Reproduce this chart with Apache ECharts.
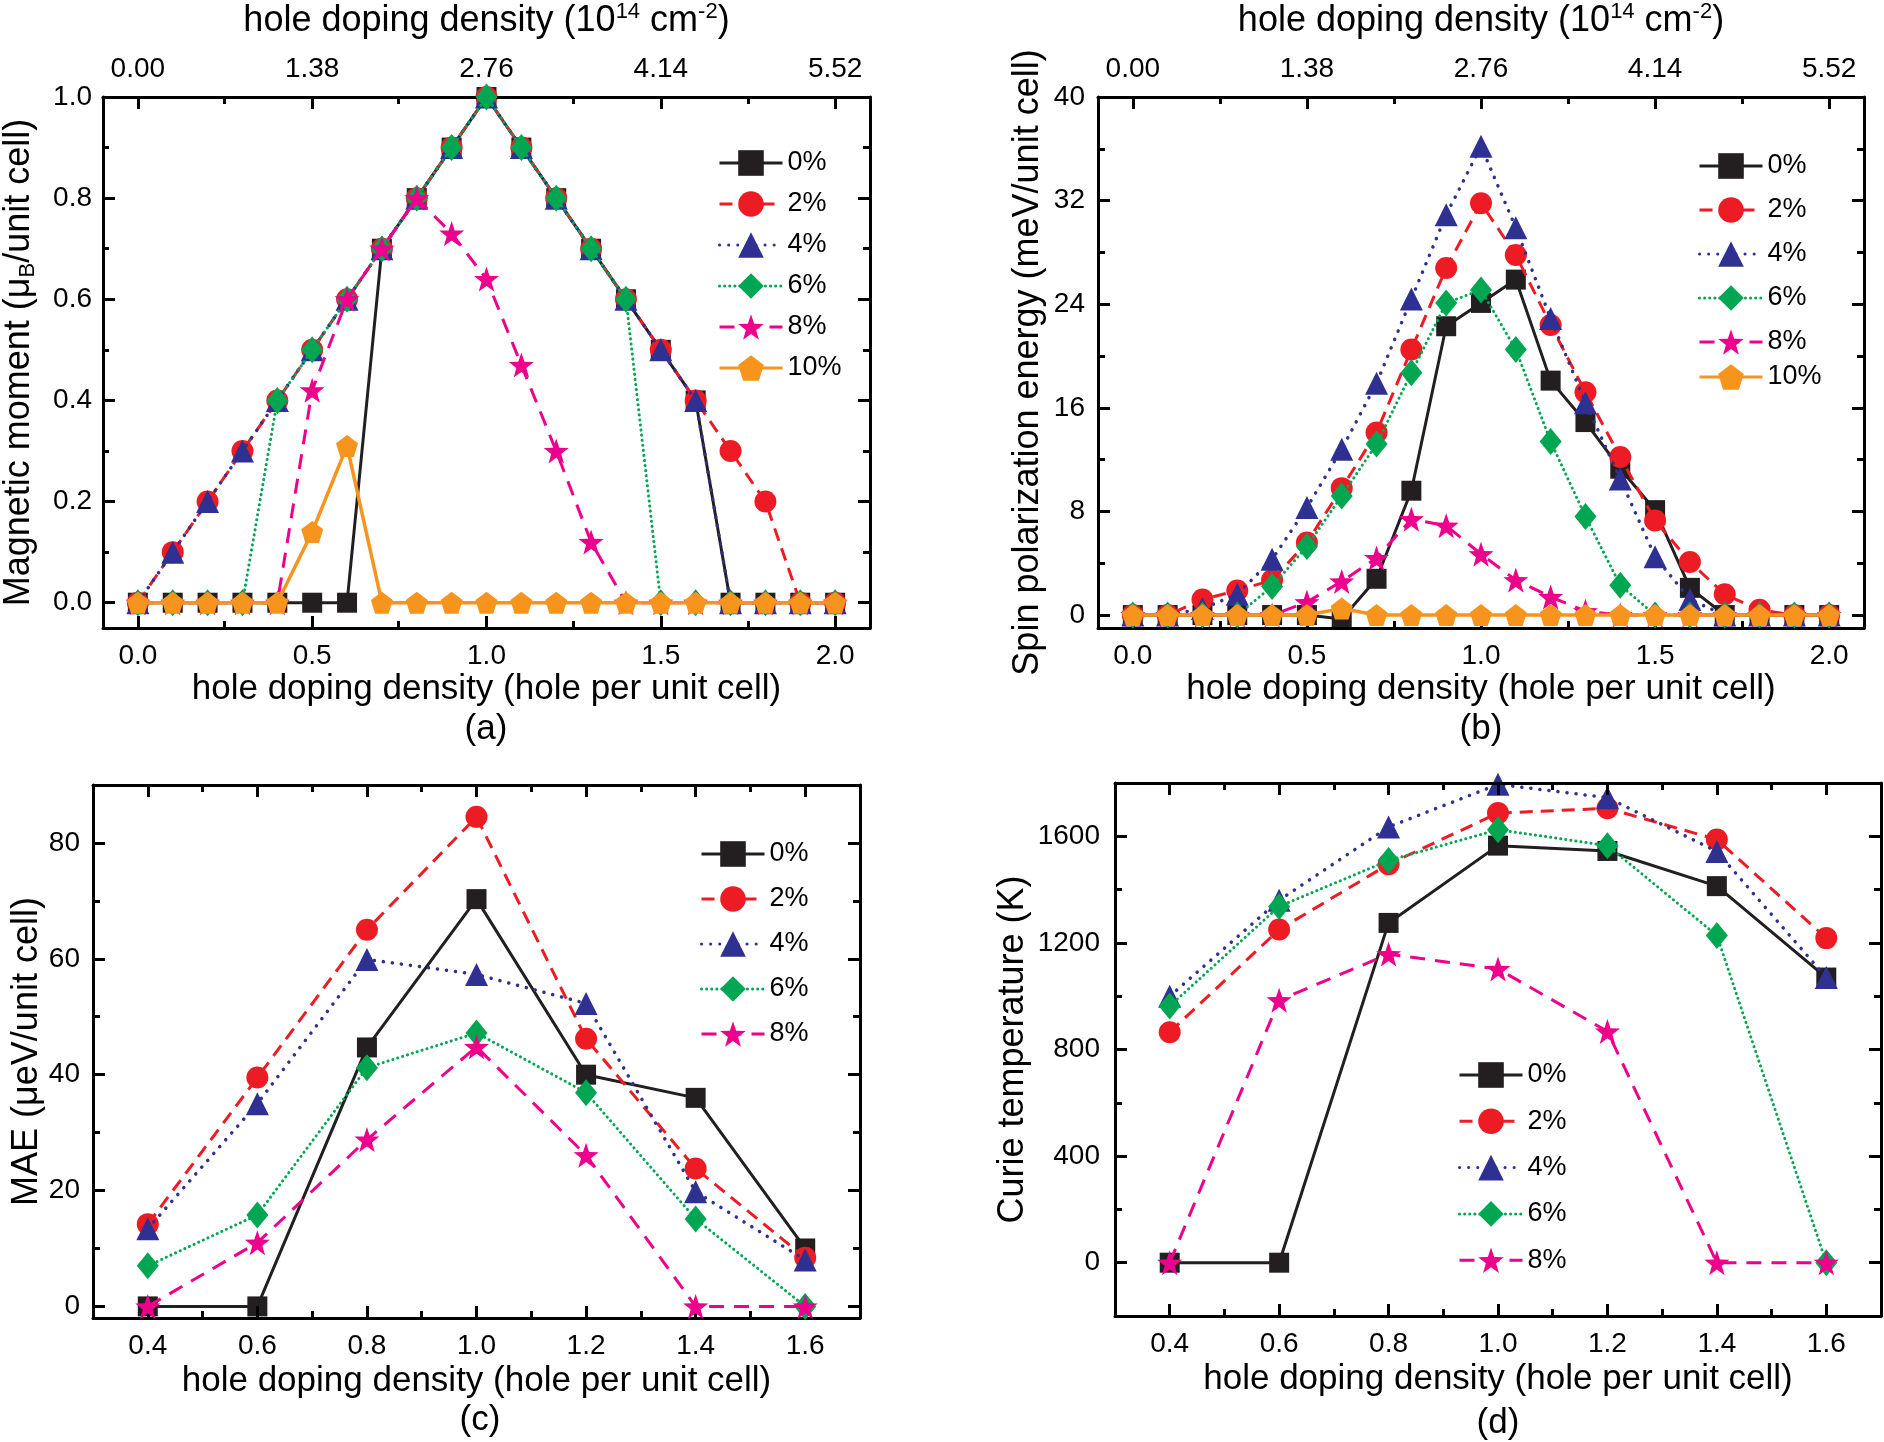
<!DOCTYPE html>
<html lang="en">
<head>
<meta charset="UTF-8">
<title>hole doping</title>
<script src="https://cdn.jsdelivr.net/npm/echarts@6/dist/echarts.min.js"></script>
<style>html,body{margin:0;padding:0;background:#fff}</style>
</head>
<body>
<div id="main" style="width:1884px;height:1442px"></div>
<script>
// ---- data ----
var strainNames = ['0%', '2%', '4%', '6%', '8%', '10%'];

// panels (a) and (b): hole per unit cell
var holeFull = [0, 0.1, 0.2, 0.3, 0.4, 0.5, 0.6, 0.7, 0.8, 0.9, 1.0, 1.1, 1.2, 1.3, 1.4, 1.5, 1.6, 1.7, 1.8, 1.9, 2.0];

var moment0  = [0, 0, 0, 0, 0, 0, 0, 0.7, 0.8, 0.9, 1.0, 0.9, 0.8, 0.7, 0.6, 0.5, 0.4, 0, 0, 0, 0];
var moment2  = [0, 0.1, 0.2, 0.3, 0.4, 0.5, 0.6, 0.7, 0.8, 0.9, 1.0, 0.9, 0.8, 0.7, 0.6, 0.5, 0.4, 0.3, 0.2, 0, 0];
var moment4  = [0, 0.1, 0.2, 0.3, 0.4, 0.5, 0.6, 0.7, 0.8, 0.9, 1.0, 0.9, 0.8, 0.7, 0.6, 0.5, 0.4, 0, 0, 0, 0];
var moment6  = [0, 0, 0, 0, 0.4, 0.5, 0.6, 0.7, 0.8, 0.9, 1.0, 0.9, 0.8, 0.7, 0.6, 0, 0, 0, 0, 0, 0];
var moment8  = [0, 0, 0, 0, 0, 0.42, 0.6, 0.7, 0.8, 0.73, 0.64, 0.47, 0.3, 0.12, 0, 0, 0, 0, 0, 0, 0];
var moment10 = [0, 0, 0, 0, 0, 0.14, 0.31, 0, 0, 0, 0, 0, 0, 0, 0, 0, 0, 0, 0, 0, 0];

var spin0  = [0, 0, 0, 0, 0, 0, -0.3, 2.8, 9.6, 22.3, 24.1, 25.9, 18.1, 14.9, 11.3, 8.1, 2.1, 0, 0, 0, 0];
var spin2  = [0, 0, 1.2, 1.9, 2.7, 5.6, 9.8, 14.1, 20.5, 26.8, 31.8, 27.8, 22.4, 17.2, 12.2, 7.3, 4.1, 1.6, 0.4, 0, 0];
var spin4  = [0, 0, 0.5, 1.6, 4.3, 8.3, 12.8, 17.9, 24.4, 30.9, 36.2, 29.9, 22.9, 16.4, 10.5, 4.5, 1.2, 0, 0, 0, 0];
var spin6  = [0, 0, 0, 0, 2.2, 5.3, 9.2, 13.2, 18.7, 24.1, 25.1, 20.5, 13.4, 7.6, 2.3, 0, 0, 0, 0, 0, 0];
var spin8  = [0, 0, 0, 0, 0, 1.0, 2.6, 4.4, 7.4, 6.9, 4.7, 2.7, 1.4, 0.3, 0, 0, 0, 0, 0, 0, 0];
var spin10 = [0, 0, 0, 0, 0, 0, 0.5, 0, 0, 0, 0, 0, 0, 0, 0, 0, 0, 0, 0, 0, 0];

// panels (c) and (d)
var holeSub = [0.4, 0.6, 0.8, 1.0, 1.2, 1.4, 1.6];

var mae0 = [0, 0, 44.7, 70.3, 40, 36, 10];
var mae2 = [14.2, 39.5, 65, 84.5, 46.2, 23.8, 8.4];
var mae4 = [13.4, 35, 59.9, 57.3, 52.3, 19.8, 8];
var mae6 = [7, 15.8, 41.2, 47.2, 36.9, 15.1, 0];
var mae8 = [0, 11, 28.8, 44.8, 26.1, 0, 0];

var curie0 = [0, 0, 1275, 1565, 1545, 1413, 1070];
var curie2 = [865, 1250, 1495, 1687, 1705, 1588, 1218];
var curie4 = [1000, 1360, 1635, 1795, 1745, 1543, 1070];
var curie6 = [963, 1337, 1509, 1625, 1565, 1228, 0];
var curie8 = [0, 985, 1158, 1102, 868, 0, 0];

// tick positions and labels (major = labelled, minor = short ticks between)
var topTickValues = [0, 0.5, 1, 1.5, 2];
var topTickLabels = ['0.00', '1.38', '2.76', '4.14', '5.52'];
var fullMajor = [0, 0.5, 1, 1.5, 2];
var fullMinor = [0.25, 0.75, 1.25, 1.75];
var subMajor = [0.4, 0.6, 0.8, 1.0, 1.2, 1.4, 1.6];
var subMinor = [0.5, 0.7, 0.9, 1.1, 1.3, 1.5];
var momentMajor = [0, 0.2, 0.4, 0.6, 0.8, 1.0];
var momentMinor = [0.1, 0.3, 0.5, 0.7, 0.9];
var spinMajor = [0, 8, 16, 24, 32, 40];
var spinMinor = [4, 12, 20, 28, 36];
var maeMajor = [0, 20, 40, 60, 80];
var maeMinor = [10, 30, 50, 70, 90];
var curieMajor = [0, 400, 800, 1200, 1600];
var curieMinor = [200, 600, 1000, 1400, 1800];

// ---- styles ----
var FONT = 'Liberation Sans, Arial, sans-serif';
var STAR = 'path://M0,-10 L2.35,-3.24 L9.51,-3.09 L3.8,1.24 L5.88,8.09 L0,4 L-5.88,8.09 L-3.8,1.24 L-9.51,-3.09 L-2.35,-3.24 Z';
var PENTA = 'path://M0,-10 L9.51,-3.09 L5.88,8.09 L-5.88,8.09 L-9.51,-3.09 Z';
var styles = [
    {color: '#231f20', type: 'solid', width: 3, cap: 'butt', symbol: 'rect', size: 20},
    {color: '#ed1c24', type: [13, 8], width: 3, cap: 'butt', symbol: 'circle', size: 22},
    {color: '#2e3192', type: [0.1, 9], width: 3.5, cap: 'round', symbol: 'triangle', size: 23},
    {color: '#00a651', type: [0.1, 5], width: 3, cap: 'round', symbol: 'diamond', size: [22, 27]},
    {color: '#ec008c', type: [15, 10], width: 3, cap: 'butt', symbol: STAR, size: 25},
    {color: '#f7941d', type: 'solid', width: 3.5, cap: 'butt', symbol: PENTA, size: 22}
];

function pairs(xs, ys) {
    var out = [];
    for (var i = 0; i < xs.length; i++) out.push([xs[i], ys[i]]);
    return out;
}

function makeSeries(k, xs, ys, panel) {
    var s = styles[k];
    return {
        name: strainNames[k],
        type: 'line',
        xAxisIndex: panel * 2,
        yAxisIndex: panel * 2,
        data: pairs(xs, ys),
        symbol: s.symbol,
        symbolSize: s.size,
        showAllSymbol: true,
        itemStyle: {color: s.color},
        lineStyle: {color: s.color, type: s.type, width: s.width, cap: s.cap},
        animation: false,
        z: 2 + k
    };
}

function axis(o) {
    return {
        type: 'value',
        gridIndex: o.grid,
        position: o.position,
        min: o.min,
        max: o.max,
        name: o.name || '',
        nameLocation: 'middle',
        nameGap: o.nameGap || 0,
        nameTextStyle: {
            fontSize: o.nameSize || 35, fontFamily: FONT, color: '#000',
            rich: {
                n: {fontSize: 36, fontFamily: FONT, lineHeight: 40, verticalAlign: 'middle'},
                sup: {fontSize: 22, fontFamily: FONT, lineHeight: 22, verticalAlign: 'top'},
                sub: {fontSize: 22, fontFamily: FONT, lineHeight: 22, verticalAlign: 'bottom'}
            }
        },
        axisLine: {show: !o.minor, onZero: false, lineStyle: {color: '#000', width: 3}},
        axisTick: {show: true, inside: true, length: o.minor ? 7 : 12, customValues: o.ticks,
            lineStyle: {color: '#000', width: 3}},
        axisLabel: {show: !!o.labels, customValues: o.labels, formatter: o.fmt,
            fontSize: 28, fontFamily: FONT, color: '#000', margin: o.margin || 12},
        splitLine: {show: false},
        z: 5
    };
}

function fix1(v) { return v.toFixed(1); }
function fix0(v) { return String(Math.round(v)); }
function topFmt(v) {
    for (var i = 0; i < topTickValues.length; i++) {
        if (Math.abs(topTickValues[i] - v) < 1e-6) return topTickLabels[i];
    }
    return '';
}

var boxes = [
    {left: 102, top: 97, width: 768, height: 531},
    {left: 1098, top: 97, width: 766, height: 531},
    {left: 93, top: 785, width: 767, height: 533},
    {left: 1115, top: 783, width: 766, height: 533}
];
// grids 0-3 carry the data and major ticks, grids 4-7 are the same boxes with the minor ticks
var grids = boxes.concat(boxes.map(function (b) { return Object.assign({}, b); }));

var bottomName = 'hole doping density (hole per unit cell)';
var topName = '{n|hole doping density (10}{sup|14}{n| cm}{sup|-2}{n|)}';

var panels = [
    {xr: [-0.1, 2.1], yr: [-0.05, 1.0], xMaj: fullMajor, xMin: fullMinor, yMaj: momentMajor, yMin: momentMinor,
        yFmt: fix1, top: true, yName: '{n|Magnetic moment (\u03bc}{sub|B}{n|/unit cell)}', yGap: 64, yMargin: 11, xGap: 44},
    {xr: [-0.1, 2.1], yr: [-1, 40], xMaj: fullMajor, xMin: fullMinor, yMaj: spinMajor, yMin: spinMinor,
        yFmt: fix0, top: true, yName: 'Spin polarization energy (meV/unit cell)', yGap: 52, yMargin: 13, xGap: 44},
    {xr: [0.3, 1.7], yr: [-2, 90], xMaj: subMajor, xMin: subMinor, yMaj: maeMajor, yMin: maeMinor,
        yFmt: fix0, top: false, yName: 'MAE (\u03bceV/unit cell)', yGap: 46, yMargin: 13, xGap: 46},
    {xr: [0.3, 1.7], yr: [-200, 1800], xMaj: subMajor, xMin: subMinor, yMaj: curieMajor, yMin: curieMinor,
        yFmt: fix0, top: false, yName: 'Curie temperature (K)', yGap: 84, yMargin: 15, xGap: 46}
];

var xAxes = [], yAxes = [], xMinorAxes = [], yMinorAxes = [];
panels.forEach(function (p, i) {
    xAxes.push(axis({grid: i, position: 'bottom', min: p.xr[0], max: p.xr[1], ticks: p.xMaj, labels: p.xMaj,
        fmt: fix1, name: bottomName, nameGap: p.xGap, margin: 14}));
    xAxes.push(p.top
        ? axis({grid: i, position: 'top', min: p.xr[0], max: p.xr[1], ticks: p.xMaj, labels: topTickValues,
            fmt: topFmt, name: topName, nameGap: 56, margin: 14})
        : axis({grid: i, position: 'top', min: p.xr[0], max: p.xr[1], ticks: p.xMaj}));
    yAxes.push(axis({grid: i, position: 'left', min: p.yr[0], max: p.yr[1], ticks: p.yMaj, labels: p.yMaj,
        fmt: p.yFmt, name: p.yName, nameGap: p.yGap, nameSize: 36, margin: p.yMargin}));
    yAxes.push(axis({grid: i, position: 'right', min: p.yr[0], max: p.yr[1], ticks: p.yMaj}));

    xMinorAxes.push(axis({grid: i + 4, position: 'bottom', min: p.xr[0], max: p.xr[1], ticks: p.xMin, minor: true}));
    xMinorAxes.push(axis({grid: i + 4, position: 'top', min: p.xr[0], max: p.xr[1], ticks: p.xMin, minor: true}));
    yMinorAxes.push(axis({grid: i + 4, position: 'left', min: p.yr[0], max: p.yr[1], ticks: p.yMin, minor: true}));
    yMinorAxes.push(axis({grid: i + 4, position: 'right', min: p.yr[0], max: p.yr[1], ticks: p.yMin, minor: true}));
});

var series = [];
[moment0, moment2, moment4, moment6, moment8, moment10].forEach(function (ys, k) {
    series.push(makeSeries(k, holeFull, ys, 0));
});
[spin0, spin2, spin4, spin6, spin8, spin10].forEach(function (ys, k) {
    series.push(makeSeries(k, holeFull, ys, 1));
});
[mae0, mae2, mae4, mae6, mae8].forEach(function (ys, k) {
    series.push(makeSeries(k, holeSub, ys, 2));
});
[curie0, curie2, curie4, curie6, curie8].forEach(function (ys, k) {
    series.push(makeSeries(k, holeSub, ys, 3));
});

function legend(left, top, gap, names) {
    return {
        orient: 'vertical', left: left, top: top, itemGap: gap,
        itemWidth: 63, itemHeight: 32, selectedMode: false,
        lineStyle: {width: 3},
        textStyle: {fontSize: 27, fontFamily: FONT, color: '#000', lineHeight: 28},
        data: names
    };
}

function panelLabel(text, x, y) {
    return {type: 'text', x: x, y: y,
        style: {text: text, fontSize: 35, fontFamily: FONT, fill: '#000', align: 'center', verticalAlign: 'middle'}};
}

var chart = echarts.init(document.getElementById('main'), null, {renderer: 'canvas'});
chart.setOption({
    backgroundColor: '#fff',
    animation: false,
    grid: grids,
    xAxis: xAxes.concat(xMinorAxes),
    yAxis: yAxes.concat(yMinorAxes),
    legend: [
        legend(713, 144, 13, strainNames),
        legend(1693, 147, 16, strainNames.slice(0, 5)),
        legend(1693, 358, 16, strainNames.slice(5)),
        legend(695, 835, 17, strainNames.slice(0, 5)),
        legend(1453, 1056, 18.3, strainNames.slice(0, 5))
    ],
    graphic: [
        panelLabel('(a)', 486, 729),
        panelLabel('(b)', 1481, 729),
        panelLabel('(c)', 480, 1420),
        panelLabel('(d)', 1498, 1423)
    ],
    series: series
});
</script>
</body>
</html>
